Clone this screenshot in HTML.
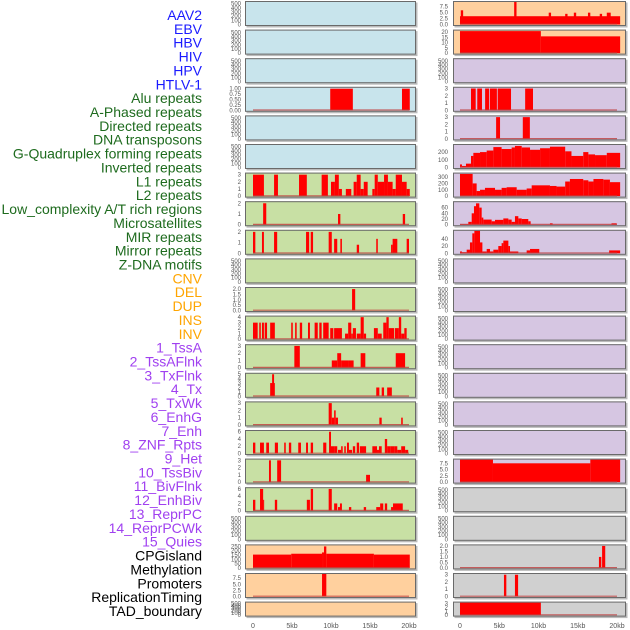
<!DOCTYPE html>
<html><head><meta charset="utf-8">
<style>
html,body{margin:0;padding:0;background:#fff;}
svg{display:block;font-family:"Liberation Sans",sans-serif;}
</style></head>
<body>
<svg id="chart" width="630" height="630" viewBox="0 0 630 630" xmlns="http://www.w3.org/2000/svg">
<g id="labels"></g>
<g id="panels"></g>
<g id="xaxis"></g>
</svg>
<script>
const trackLabels = ["AAV2","EBV","HBV","HIV","HPV","HTLV-1","Alu repeats","A-Phased repeats","Directed repeats","DNA transposons","G-Quadruplex forming repeats","Inverted repeats","L1 repeats","L2 repeats","Low_complexity A/T rich regions","Microsatellites","MIR repeats","Mirror repeats","Z-DNA motifs","CNV","DEL","DUP","INS","INV","1_TssA","2_TssAFlnk","3_TxFlnk","4_Tx","5_TxWk","6_EnhG","7_Enh","8_ZNF_Rpts","9_Het","10_TssBiv","11_BivFlnk","12_EnhBiv","13_ReprPC","14_ReprPCWk","15_Quies","CPGisland","Methylation","Promoters","ReplicationTiming","TAD_boundary"];
const labelColors = ["#1a1aff","#1a1aff","#1a1aff","#1a1aff","#1a1aff","#1a1aff","#1e6b1e","#1e6b1e","#1e6b1e","#1e6b1e","#1e6b1e","#1e6b1e","#1e6b1e","#1e6b1e","#1e6b1e","#1e6b1e","#1e6b1e","#1e6b1e","#1e6b1e","#ffa500","#ffa500","#ffa500","#ffa500","#ffa500","#a040f0","#a040f0","#a040f0","#a040f0","#a040f0","#a040f0","#a040f0","#a040f0","#a040f0","#a040f0","#a040f0","#a040f0","#a040f0","#a040f0","#a040f0","#000","#000","#000","#000","#000"];
const xTickKb = [0,5,10,15,20];
const xTickLabels = ["0","5kb","10kb","15kb","20kb"];
const T500 = [0,100,200,300,400,500];
const col1Bg = ["#c8e4ec","#c8e4ec","#c8e4ec","#c8e4ec","#c8e4ec","#c8e4ec","#c8e0a4","#c8e0a4","#c8e0a4","#c8e0a4","#c8e0a4","#c8e0a4","#c8e0a4","#c8e0a4","#c8e0a4","#c8e0a4","#c8e0a4","#c8e0a4","#c8e0a4","#ffd09e","#ffd09e","#ffd09e"];
const col1Top = [540,540,540,1.04,540,540,3.15,2.1,2.1,540,2.1,4.1,3.1,5.1,3.1,6.2,3.1,6.2,540,262,9.2,540];
const col1Ticks = [T500,T500,T500,[0,0.25,0.5,0.75,1],T500,T500,[0,1,2,3],[0,1,2],[0,1,2],T500,[0,0.5,1,1.5,2],[0,1,2,3,4],[0,1,2,3],[0,1,2,3,4,5],[0,1,2,3],[0,2,4,6],[0,1,2,3],[0,2,4,6],T500,[0,50,100,150,200,250],[0,2.5,5,7.5],T500];
const col1Bars = [[],[],[],
[[9.9,12.8,1],[19.1,20.1,1]],
[],[],
[[0,1.4,3],[2.7,3.2,3],[5.9,6.9,3],[8.8,9.6,3],[10,10.5,2],[10.5,11,3],[11,11.4,1],[11.9,12.6,1],[12.9,13.3,2],[13.3,13.8,3],[13.8,14.2,1],[14.2,14.7,2],[15.3,15.6,1],[15.6,16,3],[16,16.8,2],[16.8,17.3,3],[17.3,17.9,2],[17.9,18.3,1],[18.3,19.1,3],[19.1,19.7,2],[19.7,20.1,1]],
[[1.3,1.7,2],[10.9,11.2,1],[19.2,19.5,1]],
[[0,0.3,2],[1.15,1.4,2],[2.7,3.1,2],[6.8,7.2,2],[7.4,7.7,2],[9.7,10.1,2],[10.4,10.8,1.35],[11.2,11.4,1.35],[13.3,13.6,0.8],[15.8,16,1.35],[17.7,17.9,0.8],[17.9,18.5,1.35],[19.7,20,1.35]],
[],
[[12.7,13.1,2]],
[[0,0.6,3],[0.8,1.0,3],[1.15,1.4,3],[1.5,1.8,3],[2.2,2.8,3],[4.9,5.1,3],[5.4,5.6,3],[6.0,6.3,3],[7.05,7.3,3],[7.9,8.3,3],[8.5,8.8,3],[9.0,9.7,3],[9.9,10.3,2],[10.4,11.4,2],[11.8,12.2,1],[12.2,12.6,3],[12.6,12.8,1],[12.8,13.2,2],[13.3,13.8,1],[13.8,14.2,4],[14.2,14.5,1],[15.5,16,2],[16,16.5,1],[16.7,17.1,3],[17.1,17.4,4],[17.4,18.1,2],[18.2,18.7,2],[18.7,19.0,4],[19.0,19.4,1],[19.4,19.7,2]],
[[5.3,6.0,3],[10.1,10.8,1],[10.8,11.3,2],[11.3,12.3,1],[12.3,12.9,1],[13.8,14.4,2],[18.3,19.5,2]],
[[2.2,2.8,3],[2.45,2.7,5],[15.8,16.2,2],[16.5,16.8,2],[17.2,17.8,2]],
[[9.7,10.1,3],[10.1,10.4,1],[10.4,10.6,2],[10.6,10.9,1],[16.2,16.5,1],[19.0,19.2,1]],
[[0,0.3,3],[0.9,1.4,3],[1.7,2.05,3],[2.8,3.2,3],[4.0,4.2,3],[4.6,4.9,3],[5.8,6.15,3],[6.8,7.05,3],[7.4,7.7,3],[9.0,9.4,3],[9.75,10,6],[10,10.4,2],[10.4,10.8,2],[10.9,11.3,1],[11.3,11.5,2],[11.7,11.9,2],[12.05,12.3,3],[12.3,12.7,1],[12.8,13.1,2],[13.3,13.6,3],[13.7,14.5,2],[15.3,15.9,2],[15.9,16.15,1],[16.15,16.5,2],[16.9,17.2,4],[17.2,17.6,2],[17.6,18.1,2],[18.1,18.5,2],[18.5,19,1],[19,19.5,2],[19.5,19.9,1]],
[[2.05,2.3,3],[3.1,3.6,3],[14.5,15,1]],
[[0,0.3,3],[0.9,1.3,6],[1.3,1.4,3],[2.8,3.1,3],[6.9,7.3,3],[7.4,7.7,6],[9.7,10.1,6],[10.4,10.8,2],[10.9,11.15,1],[11.15,11.4,2],[12.3,12.6,1],[14.2,14.5,1],[15.8,16.3,1],[16.3,16.7,2],[16.9,17.2,2],[17.7,17.95,1],[17.95,19.2,2]],
[],
[[0,4.9,155],[4.9,8.85,165],[8.85,9.1,180],[9.1,9.4,250],[9.4,15.5,165],[15.5,20.1,155]],
[[8.85,9.4,9.2]],
[]];
const col2Bg = ["#ffd09e","#ffd09e","#d6c6e2","#d6c6e2","#d6c6e2","#d6c6e2","#d6c6e2","#d6c6e2","#d6c6e2","#d6c6e2","#d6c6e2","#d6c6e2","#d6c6e2","#d6c6e2","#d6c6e2","#d6c6e2","#d6c6e2","#d0d0d0","#d0d0d0","#d0d0d0","#d0d0d0","#d0d0d0"];
const col2Top = [9.5,21.5,540,3.1,3.1,292,355,79,62,540,540,540,540,540,540,540,9.1,540,540,2.05,3.1,3.3];
const col2Ticks = [[0,2.5,5,7.5],[0,5,10,15,20],T500,[0,1,2,3],[0,1,2,3],[0,100,200],[0,100,200,300],[0,20,40,60],[0,20,40],T500,T500,T500,T500,T500,T500,T500,[0,2.5,5,7.5],T500,T500,[0,0.5,1,1.5,2],[0,1,2,3],[0,1,2,3]];
const col2Bars = [
[[0,20.4,3.5],[0.1,0.4,6],[6.9,7.2,9.5],[11.3,11.6,5],[13.4,13.7,4.5],[14.5,14.8,5],[16.3,16.6,5],[17.8,18.1,4.5],[18.7,19.2,5]],
[[0,10.3,21],[10.3,20.4,16]],
[],
[[1.4,2.0,3],[2.2,2.8,3],[3.2,3.7,3],[3.8,4.7,3],[4.8,6.5,3],[8.3,9.3,3]],
[[4.6,5.1,3],[8.0,8.9,3]],
[[0,0.25,40],[0.25,0.76,20],[0.76,1.4,50],[1.4,1.7,150],[1.7,2.55,190],[2.55,3.4,200],[3.4,4.25,220],[4.25,5.3,265],[5.3,6.58,240],[6.58,7.0,260],[7.0,7.86,280],[7.86,8.92,260],[8.92,10.2,230],[10.2,11.46,250],[11.46,13.4,270],[13.4,14.2,210],[14.2,15.7,150],[15.7,16.35,200],[16.35,17.2,170],[17.2,18.7,160],[18.7,20.4,190]],
[[0,1.61,350],[1.61,2.12,200],[2.12,2.55,80],[2.55,3.18,100],[3.18,4.46,130],[4.46,5.3,100],[5.3,5.94,130],[5.94,7.22,140],[7.22,8.49,100],[8.49,9.13,120],[9.13,11.46,170],[11.46,12.3,160],[12.3,13.4,150],[13.4,14.0,230],[14.0,15.7,270],[15.7,16.35,250],[16.35,17.0,230],[17.0,18.26,270],[18.26,19.1,260],[19.1,20.4,220]],
[[0,1.06,2],[1.06,1.49,10],[1.49,1.78,40],[1.78,2.04,65],[2.04,2.46,75],[2.46,2.76,60],[2.76,2.97,25],[2.97,4.03,18],[4.03,4.46,12],[4.46,5.52,17],[5.52,6.16,22],[6.16,6.58,18],[6.58,7.0,10],[7.0,7.43,30],[7.43,7.86,22],[7.86,8.7,20],[8.7,9.0,12],[11.46,11.8,5],[19.3,19.96,5]],
[[0,0.25,5],[0.25,0.85,3],[0.85,1.27,10],[1.27,1.57,30],[1.57,1.83,55],[1.83,2.55,62],[2.55,2.85,30],[2.85,3.4,5],[3.4,3.82,12],[3.82,4.25,5],[4.25,4.88,10],[4.88,5.3,20],[5.3,5.52,28],[5.52,6.16,35],[6.16,6.37,20],[6.37,7.43,5],[8.49,8.92,8],[8.92,10.1,12],[19.0,20.4,8]],
[],[],[],[],[],[],[],
[[0,4.2,9.1],[4.2,16.6,7.6],[16.6,20.4,9.1]],
[],[],
[[17.7,18.0,1],[18.1,18.5,2]],
[[5.6,5.9,3],[7.0,7.4,3]],
[[0,10.3,3.3]]];

const NS = "http://www.w3.org/2000/svg";
function mk(tag, attrs, parent){const e=document.createElementNS(NS,tag);for(const k in attrs)e.setAttribute(k,attrs[k]);parent.appendChild(e);return e;}
const labelsG=document.getElementById('labels'), panelsG=document.getElementById('panels'), xG=document.getElementById('xaxis');

trackLabels.forEach((t,i)=>{
  const el=mk('text',{x:202,y:(15+i*13.86+5).toFixed(1),'text-anchor':'end','font-size':14,fill:labelColors[i]},labelsG);
  el.textContent=t;
  
  
});

function decimalsOf(v){const s=String(v);return s.includes('.')?s.split('.')[1].length:0;}

const cols=[{x0:245,w:171,px0:253,px20:409,tickX:241,bg:col1Bg,top:col1Top,ticks:col1Ticks,bars:col1Bars},
            {x0:453,w:173,px0:460,px20:617,tickX:448,bg:col2Bg,top:col2Top,ticks:col2Ticks,bars:col2Bars}];
function rowTop(i){return 1+i*28.6;}
function rowH(i){return i===21?15:25;}

cols.forEach((c,ci)=>{
  const xs=kb=>c.px0+(kb/20)*(c.px20-c.px0);
  for(let i=0;i<22;i++){
    const top=rowTop(i),h=rowH(i),bottom=top+h;
    const ys=v=>bottom-1.5-(v/c.top[i])*(h-2.5);
    const g=mk('g',{},panelsG);
    
    
    mk('rect',{x:c.x0+1.5,y:top+1.5,width:c.w,height:h,fill:'#bbb'},g);
    mk('rect',{x:c.x0,y:top,width:c.w,height:h,fill:c.bg[i]},g);
    const bars=c.bars[i];
    bars.forEach(b=>{
      const x1=xs(b[0]),x2=xs(b[1]),y=ys(b[2]);
      const r=mk('rect',{x:x1.toFixed(2),y:y.toFixed(2),width:Math.max(1,x2-x1).toFixed(2),height:(bottom-1.5-y).toFixed(2),fill:'#ff0000'},g);
      
      
    });
    if(bars.length){
      const bl=mk('line',{x1:xs(0),x2:xs(20),y1:bottom-1.8,y2:bottom-1.8,stroke:'#c04040','stroke-width':1.2,opacity:0.8},g);
      
      
    }
    mk('rect',{x:c.x0+0.5,y:top+0.5,width:c.w-1,height:h-1,fill:'none',stroke:'#6a6a6a','stroke-width':1},g);
    const ticks=c.ticks[i];
    const dec=Math.max(...ticks.map(decimalsOf));
    ticks.forEach(tv=>{
      const tt=mk('text',{x:c.tickX,y:(ys(tv)+2).toFixed(1),'text-anchor':'end','font-size':6,fill:'#555'},g);
      tt.textContent=tv.toFixed(dec);
      
      
    });
  }
  xTickKb.forEach((k,j)=>{
    const t=mk('text',{x:xs(k),y:628,'text-anchor':'middle','font-size':7,fill:'#555'},xG);
    t.textContent=xTickLabels[j];
    
    
  });
});
</script>
</body></html>
